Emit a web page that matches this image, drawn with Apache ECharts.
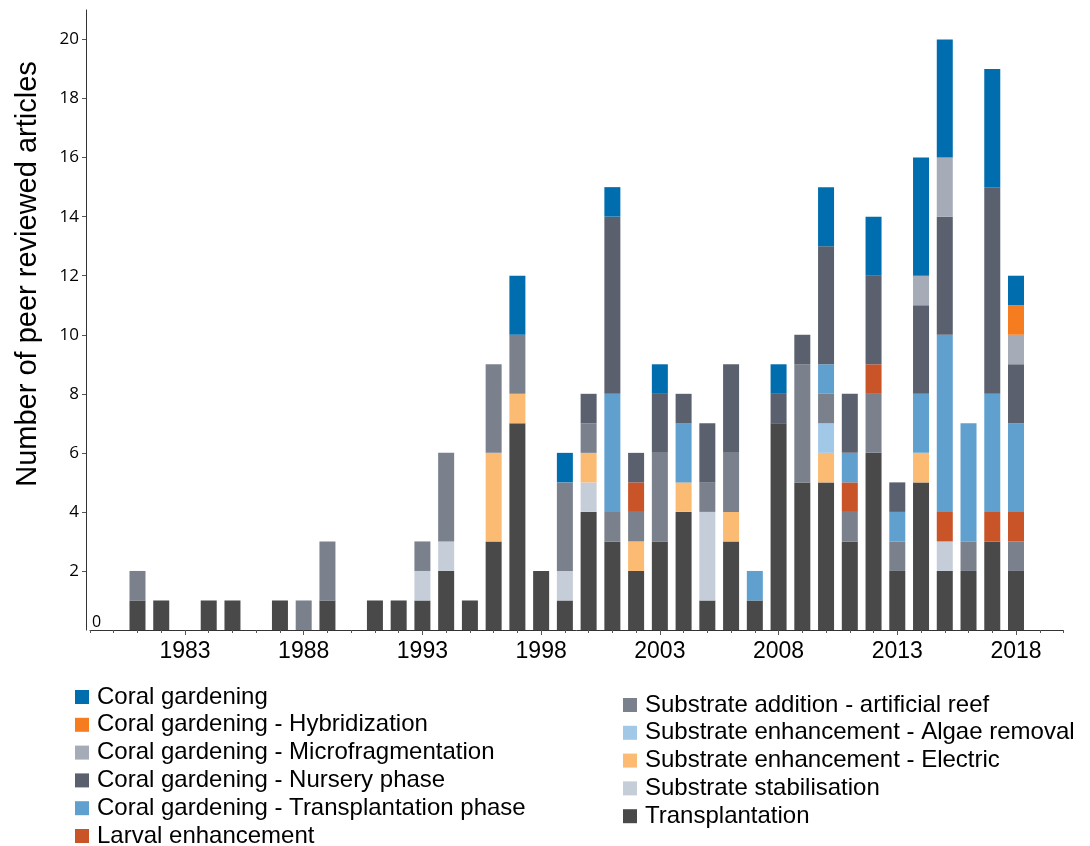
<!DOCTYPE html>
<html>
<head>
<meta charset="utf-8">
<script src="https://cdn.jsdelivr.net/npm/echarts@6/dist/echarts.min.js"></script>
<style>
html,body{margin:0;padding:0;background:#fff;}
#chart{width:1090px;height:846px;}
</style>
</head>
<body>
<div id="chart"></div>
<script>
const years = [1981,1982,1983,1984,1985,1986,1987,1988,1989,1990,1991,1992,1993,1994,1995,1996,1997,1998,1999,2000,2001,2002,2003,2004,2005,2006,2007,2008,2009,2010,2011,2012,2013,2014,2015,2016,2017,2018];
const axisYears = ['1979','1980','1981','1982','1983','1984','1985','1986','1987','1988','1989','1990','1991','1992','1993','1994','1995','1996','1997','1998','1999','2000','2001','2002','2003','2004','2005','2006','2007','2008','2009','2010','2011','2012','2013','2014','2015','2016','2017','2018','2019','2020'];
const labelYears = ['1983','1988','1993','1998','2003','2008','2013','2018'];
const yTickLabels = [2,4,6,8,10,12,14,16,18,20];

// stack order bottom -> top
const transplantation = [1,1,0,1,1,0,1,0,1,0,1,1,1,2,1,3,7,2,1,4,3,2,3,4,1,3,1,7,5,5,3,6,2,5,2,2,3,2];
const stabilisation   = [0,0,0,0,0,0,0,0,0,0,0,0,1,1,0,0,0,0,1,1,0,0,0,0,3,0,0,0,0,0,0,0,0,0,1,0,0,0];
const electric        = [0,0,0,0,0,0,0,0,0,0,0,0,0,0,0,3,1,0,0,1,0,1,0,1,0,1,0,0,0,1,0,0,0,1,0,0,0,0];
const algaeRemoval    = [0,0,0,0,0,0,0,0,0,0,0,0,0,0,0,0,0,0,0,0,0,0,0,0,0,0,0,0,0,1,0,0,0,0,0,0,0,0];
const artificialReef  = [1,0,0,0,0,0,0,1,2,0,0,0,1,3,0,3,2,0,3,1,1,1,3,0,1,2,0,0,4,1,1,2,1,0,0,1,0,1];
const larval          = [0,0,0,0,0,0,0,0,0,0,0,0,0,0,0,0,0,0,0,0,0,1,0,0,0,0,0,0,0,0,1,1,0,0,1,0,1,1];
const transplPhase    = [0,0,0,0,0,0,0,0,0,0,0,0,0,0,0,0,0,0,0,0,4,0,0,2,0,0,1,0,0,1,1,0,1,2,6,4,4,3];
const nursery         = [0,0,0,0,0,0,0,0,0,0,0,0,0,0,0,0,0,0,0,1,6,1,2,1,2,3,0,1,1,4,2,3,1,3,4,0,7,2];
const microfrag       = [0,0,0,0,0,0,0,0,0,0,0,0,0,0,0,0,0,0,0,0,0,0,0,0,0,0,0,0,0,0,0,0,0,1,2,0,0,1];
const hybridization   = [0,0,0,0,0,0,0,0,0,0,0,0,0,0,0,0,0,0,0,0,0,0,0,0,0,0,0,0,0,0,0,0,0,0,0,0,0,1];
const coralGardening  = [0,0,0,0,0,0,0,0,0,0,0,0,0,0,0,0,2,0,1,0,1,0,1,0,0,0,0,1,0,2,0,2,0,4,4,0,4,1];

const seriesDefs = [
  ['Transplantation', transplantation, '#494949'],
  ['Substrate stabilisation', stabilisation, '#C5CDD8'],
  ['Substrate enhancement - Electric', electric, '#FBBB73'],
  ['Substrate enhancement - Algae removal', algaeRemoval, '#A2C8E8'],
  ['Substrate addition - artificial reef', artificialReef, '#7A818D'],
  ['Larval enhancement', larval, '#C85428'],
  ['Coral gardening - Transplantation phase', transplPhase, '#5FA0CF'],
  ['Coral gardening - Nursery phase', nursery, '#5A606D'],
  ['Coral gardening - Microfragmentation', microfrag, '#A5ABB7'],
  ['Coral gardening - Hybridization', hybridization, '#F57D20'],
  ['Coral gardening', coralGardening, '#006EAE']
];

const leftLegend = ['Coral gardening','Coral gardening - Hybridization','Coral gardening - Microfragmentation','Coral gardening - Nursery phase','Coral gardening - Transplantation phase','Larval enhancement'];
const rightLegend = ['Substrate addition - artificial reef','Substrate enhancement - Algae removal','Substrate enhancement - Electric','Substrate stabilisation','Transplantation'];

const chart = echarts.init(document.getElementById('chart'), null, {renderer:'canvas'});

const legendText = {fontSize:24, fontFamily:'Liberation Sans', color:'#000', padding:[0,0,0,3]};
const isLabelYear = (idx, val) => labelYears.indexOf(String(val)) >= 0;

const option = {
  animation:false,
  color: seriesDefs.map(d=>d[2]),
  grid:{left:90, right:26.5, top:10, bottom:216, containLabel:false},
  legend:[
    {data:leftLegend, orient:'vertical', left:75, top:685, height:300, itemWidth:14, itemHeight:14, itemGap:3.8, icon:'rect', selectedMode:false, textStyle:legendText, padding:0},
    {data:rightLegend, orient:'vertical', left:623, top:693, height:300, itemWidth:14, itemHeight:14, itemGap:3.8, icon:'rect', selectedMode:false, textStyle:legendText, padding:0}
  ],
  xAxis:[
    {type:'category', data:axisYears, boundaryGap:false, position:'bottom',
     axisLine:{show:true, lineStyle:{color:'#333', width:1}},
     axisTick:{show:true, interval:0, length:3, lineStyle:{color:'#555'}},
     axisLabel:{interval:isLabelYear, fontSize:23, fontFamily:'Liberation Sans', color:'#000', margin:10},
     splitLine:{show:false}},
    {type:'category', data:axisYears, boundaryGap:false, position:'bottom',
     axisLine:{show:false},
     axisTick:{show:true, interval:isLabelYear, length:5, lineStyle:{color:'#555'}},
     axisLabel:{show:false},
     splitLine:{show:false}}
  ],
  yAxis:[
    {type:'value', min:0, max:21, offset:4,
     axisLine:{show:true, lineStyle:{color:'#333', width:1}},
     axisTick:{show:true, customValues:yTickLabels, length:4, lineStyle:{color:'#555'}},
     axisLabel:{customValues:yTickLabels, fontSize:17, fontFamily:'Open Sans', color:'#000', margin:7},
     splitLine:{show:false}},
    {type:'value', min:0, max:21, offset:4, position:'left',
     axisLine:{show:false}, axisTick:{show:false},
     axisLabel:{customValues:[0], inside:true, margin:6, verticalAlign:'bottom', fontSize:16, fontFamily:'Open Sans', color:'#000'},
     splitLine:{show:false}}
  ],
  graphic:[
    {type:'text', x:28, y:274, rotation:Math.PI/2,
     style:{text:'Number of peer reviewed articles', font:'29px "Liberation Sans"', fill:'#000', textAlign:'center', textVerticalAlign:'middle'}}
  ],
  series: seriesDefs.map(d=>({
    name:d[0], type:'bar', stack:'total', barWidth:16, xAxisIndex:0, yAxisIndex:0,
    itemStyle:{color:d[2]},
    emphasis:{disabled:true},
    data: axisYears.map(y=>{ const i = years.indexOf(Number(y)); return i < 0 ? 0 : d[1][i]; })
  }))
};
chart.setOption(option);
</script>
</body>
</html>
